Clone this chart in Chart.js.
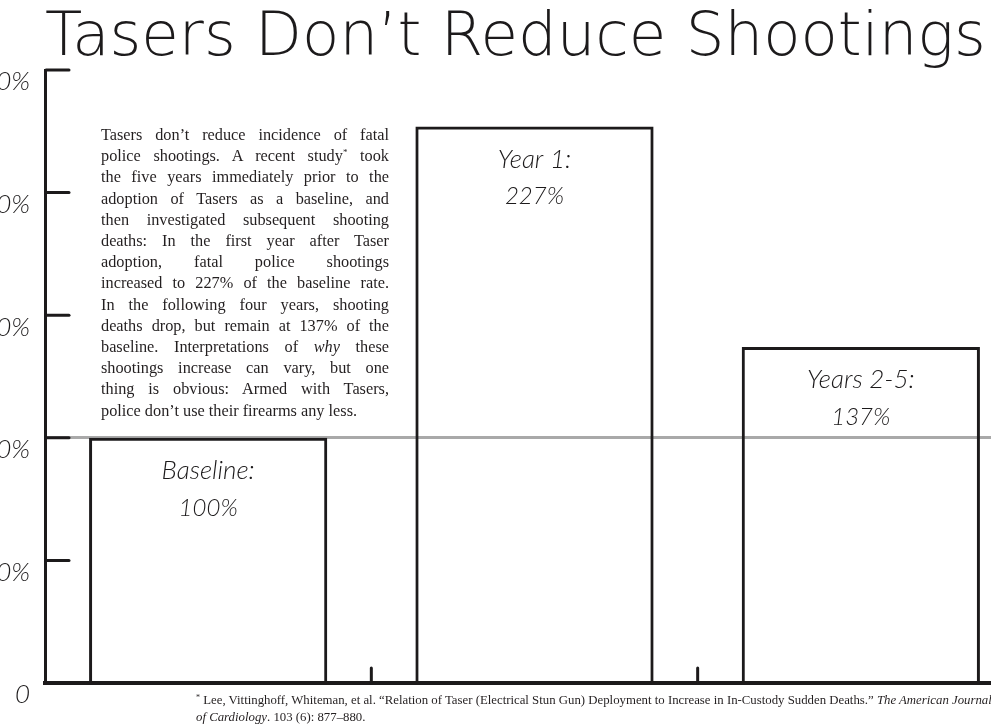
<!DOCTYPE html>
<html>
<head>
<meta charset="utf-8">
<script src="https://cdn.jsdelivr.net/npm/chart.js@4.4.0/dist/chart.umd.min.js"></script>
<style>
  body { margin: 0; width: 991px; height: 725px; overflow: hidden; background: #fff; position: relative; }
  #wrap { position: absolute; left: -40px; top: 0; width: 1070px; height: 725px; }
  #note { position: absolute; left: 101px; top: 124px; width: 288px; font-family: "Liberation Serif", serif; font-size: 16.3px; line-height: 21.2px; color: #231f20; }
  #note div { text-align: justify; text-align-last: justify; }
  #note div.last { text-align-last: left; }
  .star { position: relative; top: -6px; font-size: 9px; line-height: 0; }
  #foot { position: absolute; left: 196px; top: 692px; font-family: "Liberation Serif", serif; font-size: 12.8px; line-height: 17px; color: #231f20; white-space: nowrap; }
</style>
</head>
<body>
<div id="wrap"><canvas id="chart"></canvas></div>
<div id="note">
  <div>Tasers don’t reduce incidence of fatal</div>
  <div>police shootings. A recent study<span class="star">*</span> took</div>
  <div>the five years immediately prior to the</div>
  <div>adoption of Tasers as a baseline, and</div>
  <div>then investigated subsequent shooting</div>
  <div>deaths: In the first year after Taser</div>
  <div>adoption, fatal police shootings</div>
  <div>increased to 227% of the baseline rate.</div>
  <div>In the following four years, shooting</div>
  <div>deaths drop, but remain at 137% of the</div>
  <div>baseline. Interpretations of <i>why</i> these</div>
  <div>shootings increase can vary, but one</div>
  <div>thing is obvious: Armed with Tasers,</div>
  <div class="last">police don’t use their firearms any less.</div>
</div>
<div id="foot">
  <span class="star" style="top:-4px;font-size:8px">*</span> Lee, Vittinghoff, Whiteman, et al. “Relation of Taser (Electrical Stun Gun) Deployment to Increase in In-Custody Sudden Deaths.” <i>The American Journal</i><br>
  <i>of Cardiology</i>. 103 (6): 877–880.
</div>
<script>
// shooting deaths as % of the pre-Taser baseline
var categories = ["Baseline", "Year 1", "Years 2-5"];
var percentOfBaseline = [100, 227, 137];
var yTicks = [0, 50, 100, 150, 200, 250];

var ink = "#1c1a1b";
var hand = "Lato";

// little tick marks inside the axes + the handwritten labels on the bars
var sketchMarks = {
  id: "sketchMarks",
  afterDatasetsDraw: function(chart) {
    var ctx = chart.ctx, area = chart.chartArea;
    var x = chart.scales.x, y = chart.scales.y;
    ctx.save();
    ctx.strokeStyle = ink;
    ctx.lineWidth = 3;
    ctx.lineCap = "round";
    y.ticks.forEach(function(t) {
      if (t.value === 0) return;
      var py = y.getPixelForValue(t.value);
      ctx.beginPath();
      ctx.moveTo(area.left + 1, py);
      ctx.lineTo(area.left + 24, py);
      ctx.stroke();
    });
    for (var i = 0; i < categories.length - 1; i++) {
      var px = (x.getPixelForValue(i) + x.getPixelForValue(i + 1)) / 2;
      ctx.beginPath();
      ctx.moveTo(px, area.bottom);
      ctx.lineTo(px, area.bottom - 15);
      ctx.stroke();
    }
    ctx.fillStyle = ink;
    ctx.textAlign = "center";
    ctx.textBaseline = "middle";
    chart.getDatasetMeta(0).data.forEach(function(bar, i) {
      ctx.font = "italic 300 26px " + hand;
      ctx.fillText(categories[i] + ":", bar.x, bar.y + 33);
      ctx.font = "italic 300 24px " + hand;
      ctx.fillText(percentOfBaseline[i] + "%", bar.x, bar.y + 70);
    });
    ctx.restore();
  }
};

var ctx = document.getElementById("chart");
var myChart = new Chart(ctx, {
  type: "bar",
  data: {
    labels: categories,
    datasets: [{
      data: percentOfBaseline,
      backgroundColor: "rgba(255,255,255,0)",
      borderColor: ink,
      borderWidth: 3,
      categoryPercentage: 1,
      barPercentage: 0.73
    }]
  },
  options: {
    responsive: true,
    maintainAspectRatio: false,
    animation: false,
    layout: { padding: { top: 0, right: 6, bottom: 42, left: 0 } },
    plugins: {
      legend: { display: false },
      tooltip: { enabled: false },
      title: {
        display: true,
        text: "Tasers Don’t Reduce Shootings",
        align: "start",
        fullSize: false,
        color: ink,
        font: { family: "DejaVu Sans", size: 61, weight: 200, lineHeight: 1.0 },
        padding: { top: 9, bottom: 0 }
      }
    },
    scales: {
      x: {
        grid: { display: false, drawTicks: false },
        border: { color: ink, width: 4 },
        ticks: { display: false }
      },
      y: {
        min: 0,
        max: 250,
        afterBuildTicks: function(scale) {
          scale.ticks = yTicks.map(function(v) { return { value: v }; });
        },
        afterFit: function(scale) { scale.width = 85; },
        grid: {
          drawTicks: false,
          lineWidth: 3,
          color: function(c) { return c.tick && c.tick.value === 100 ? "#a9a9a9" : "rgba(0,0,0,0)"; }
        },
        border: { color: ink, width: 3 },
        ticks: {
          padding: 15,
          labelOffset: 12,
          color: ink,
          font: { family: hand, size: 26, style: "italic", weight: 300 },
          callback: function(v) { return v === 0 ? "0" : v + "%"; }
        }
      }
    }
  },
  plugins: [sketchMarks]
});
</script>
</body>
</html>
